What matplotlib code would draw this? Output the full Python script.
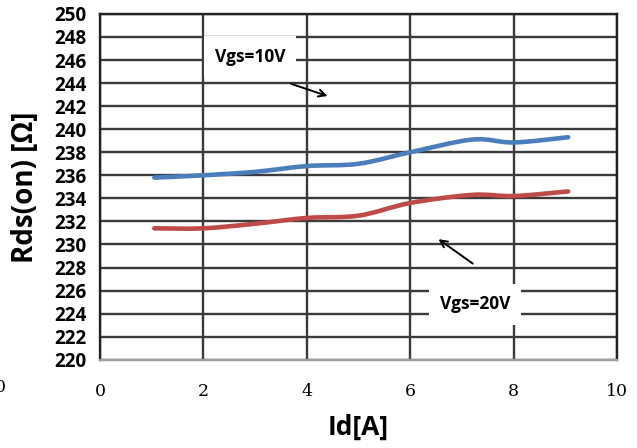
import numpy as np
import matplotlib
matplotlib.use('Agg')
import matplotlib.pyplot as plt
from matplotlib.path import Path
import matplotlib.patches as mpatches

# data
id_a = [1.05, 2, 3, 4, 5, 6, 7.2, 8, 9.05]
rds_10v = [235.8, 236.0, 236.3, 236.8, 237.0, 238.0, 239.1, 238.85, 239.3]
rds_20v = [231.4, 231.4, 231.8, 232.3, 232.5, 233.6, 234.3, 234.2, 234.6]

BLUE = '#4a7ebb'
RED = '#be4b48'
GRID = '#3a3a3a'


def smooth_path(x, y):
    # Excel-style smoothed line as cubic bezier segments
    x = np.asarray(x, float)
    y = np.asarray(y, float)
    verts = [(x[0], y[0])]
    codes = [Path.MOVETO]
    n = len(x)
    for i in range(n - 1):
        x0, y0 = (x[i - 1], y[i - 1]) if i > 0 else (x[i], y[i])
        x3, y3 = (x[i + 2], y[i + 2]) if i + 2 < n else (x[i + 1], y[i + 1])
        c1 = (x[i] + (x[i + 1] - x0) / 6, y[i] + (y[i + 1] - y0) / 6)
        c2 = (x[i + 1] - (x3 - x[i]) / 6, y[i + 1] - (y3 - y[i]) / 6)
        verts += [c1, c2, (x[i + 1], y[i + 1])]
        codes += [Path.CURVE4] * 3
    return Path(verts, codes)


fig = plt.figure(figsize=(6.37, 4.48), dpi=100)
ax = fig.add_axes([0.157, 0.197, 0.812, 0.772])

ax.set_xlim(0, 10)
ax.set_ylim(220, 250)
ax.set_xticks(np.arange(0, 11, 2))
ax.set_yticks(np.arange(220, 251, 2))
ax.grid(True, color=GRID, lw=1.7)
ax.set_axisbelow(True)
ax.tick_params(length=0)
ax.tick_params(axis='x', pad=17)
ax.tick_params(axis='y', pad=10)

for lbl in ax.get_yticklabels():
    lbl.set_fontfamily('Open Sans')
    lbl.set_fontweight('bold')
    lbl.set_fontsize(13.5)
for lbl in ax.get_xticklabels():
    lbl.set_fontfamily('DejaVu Serif')
    lbl.set_fontsize(12.5)

for s in ['left', 'top', 'right']:
    ax.spines[s].set_color('#222222')
    ax.spines[s].set_linewidth(1.7)
ax.spines['bottom'].set_color('#a0a0a0')
ax.spines['bottom'].set_linewidth(1.7)

for yy, c in [(rds_10v, BLUE), (rds_20v, RED)]:
    ax.add_patch(mpatches.PathPatch(smooth_path(id_a, yy), fill=False,
                                    edgecolor=c, lw=3.3, capstyle='round',
                                    zorder=3))

ax.text(2.9, 246.3, 'Vgs=10V', ha='center', va='center', fontsize=12.5,
        fontweight='bold', family='Open Sans', zorder=4,
        bbox=dict(facecolor='white', edgecolor='none', pad=8))
ax.text(7.25, 224.8, 'Vgs=20V', ha='center', va='center', fontsize=12.5,
        fontweight='bold', family='Open Sans', zorder=4,
        bbox=dict(facecolor='white', edgecolor='none', pad=8))

ax.annotate('', xy=(4.45, 242.8), xytext=(3.65, 244.0),
            arrowprops=dict(arrowstyle='->,head_length=0.5,head_width=0.25',
                            color='black', lw=1.4), zorder=5)
ax.annotate('', xy=(6.5, 230.6), xytext=(7.25, 228.2),
            arrowprops=dict(arrowstyle='->,head_length=0.5,head_width=0.25',
                            color='black', lw=1.4), zorder=5)

ax.set_ylabel('Rds(on) [Ω]', fontsize=20, fontweight='bold',
              family='Open Sans', labelpad=10)
ax.set_xlabel('Id[A]', fontsize=19, fontweight='bold', family='Open Sans',
              labelpad=10)

# clipped tick label at the far left edge, as in the source image
fig.text(0.0, 0.134, '0', ha='center', va='center', fontsize=12.5,
         family='DejaVu Serif')

fig.savefig('out.png', dpi=100)
